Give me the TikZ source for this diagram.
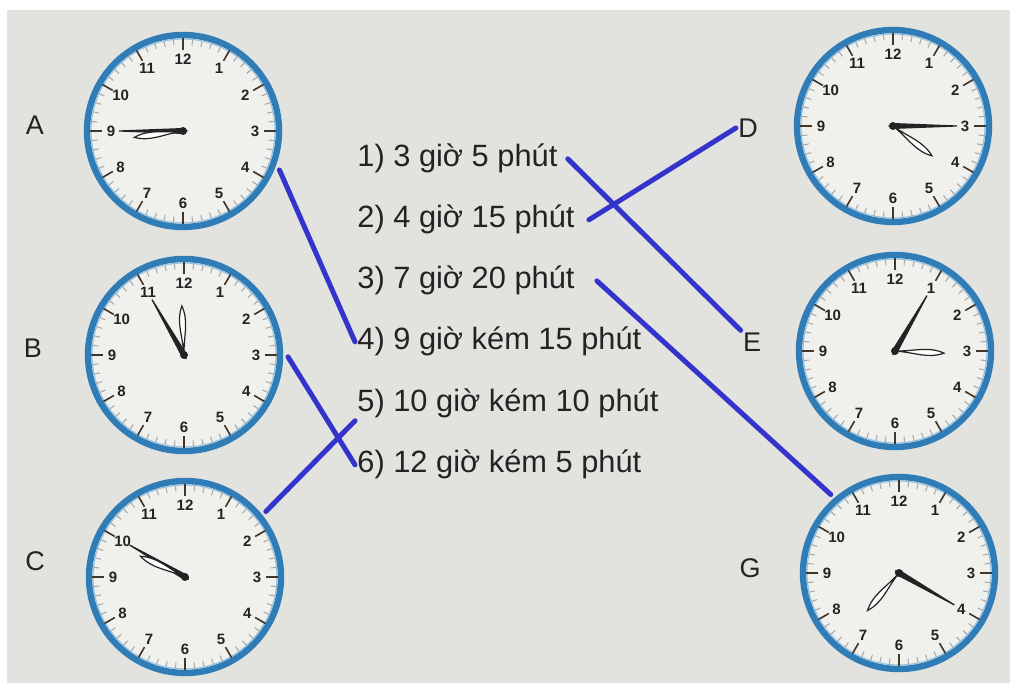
\documentclass[tikz,border=0pt]{standalone}
\usepackage{fontspec}
\setmainfont{Liberation Sans}
\usepackage{tikz}
\usepackage{xcolor}
\definecolor{paper}{RGB}{226,226,223}
\definecolor{face}{RGB}{240,240,237}
\definecolor{ringblue}{RGB}{48,124,182}
\definecolor{ringlight}{RGB}{150,195,225}
\definecolor{pen}{RGB}{52,52,205}
\definecolor{ink}{RGB}{35,35,35}

\tikzset{
  dial/.style={circle,draw=ringblue,line width=3.2pt,fill=face,minimum size=96pt,inner sep=0pt,outer sep=4pt},
  mintick/.style={gray!70,line width=0.5pt},
  hourtick/.style={ink!80!brown,line width=0.8pt},
  numeral/.style={ink,font=\fontsize{7.5}{8}\selectfont\bfseries,inner sep=0pt},
  item/.style={ink,font=\fontsize{15.4}{18}\selectfont,anchor=base west,inner sep=1pt},
  letter/.style={ink,font=\fontsize{13.5}{15}\selectfont,inner sep=1pt},
  match/.style={pen,line width=2.5pt,line cap=round}
}

% clock: name, centre, hour-hand angle, minute-hand angle
\newcommand{\dongho}[4]{%
  \node[dial] (#1) at (#2) {};
  \begin{scope}[shift={(#2)}]
    \draw[ringlight,line width=0.6pt] (0,0) circle (92);
    \foreach \m in {0,6,...,354} \draw[mintick] (\m:86) -- (\m:92);
    \foreach \h in {1,...,12} {
      \draw[hourtick] (90-30*\h:81) -- (90-30*\h:93);
      \node[numeral] at (90-30*\h:72) {\h};
    }
    \fill[ink,rotate=#4] (-5,0) -- (0,3) -- (64,0.6) -- (64,-0.6) -- (0,-3) -- cycle;
    \draw[ink,fill=white,rotate=#3,line width=0.6pt] (0,0) .. controls (20,0.5) and (33,6.5) .. (49,0) .. controls (33,-6.5) and (20,-0.5) .. (0,0);
    \fill[ink] (0,0) circle (4);
  \end{scope}
}

\begin{document}
\begin{tikzpicture}[x=0.5pt,y=0.5pt]
  \useasboundingbox (0,0) rectangle (1010,683);
  \fill[white] (0,0) rectangle (1010,683);
  \fill[paper] (7,0) rectangle (1010,673);

  % Clocks
  \dongho{A}{183,552}{187.5}{180}
  \dongho{B}{184,328}{92.5}{120}
  \dongho{C}{185,106}{155}{150}
  \dongho{D}{893,557}{-37.5}{0}
  \dongho{E}{895,332}{-2.5}{60}
  \dongho{G}{899,110}{-130}{-30}

  % Letters
  \node[letter] (la) at (35,558) {A};
  \node[letter] (lb) at (33,335) {B};
  \node[letter] (lc) at (35,122) {C};
  \node[letter] (ld) at (748,555) {D};
  \node[letter] (le) at (752,341) {E};
  \node[letter] (lg) at (750,115) {G};

  % Times
  \node[item] (t1) at (355,516) {1) 3 giờ 5 phút};
  \node[item] (t2) at (355,455) {2) 4 giờ 15 phút};
  \node[item] (t3) at (355,394) {3) 7 giờ 20 phút};
  \node[item] (t4) at (355,333) {4) 9 giờ kém 15 phút};
  \node[item] (t5) at (355,271) {5) 10 giờ kém 10 phút};
  \node[item] (t6) at (355,210) {6) 12 giờ kém 5 phút};

  % Matching lines
  \draw[match] (A.-22) -- (t4.west);
  \draw[match] (B.-1) -- (t6.west);
  \draw[match] (C.39) -- (t5.south west);
  \draw[match] ([xshift=4pt]t1.east) -- (le.north west);
  \draw[match] ([xshift=6pt]t2.east) -- (ld.west);
  \draw[match] ([xshift=10pt]t3.east) -- (G.131);
\end{tikzpicture}
\end{document}
